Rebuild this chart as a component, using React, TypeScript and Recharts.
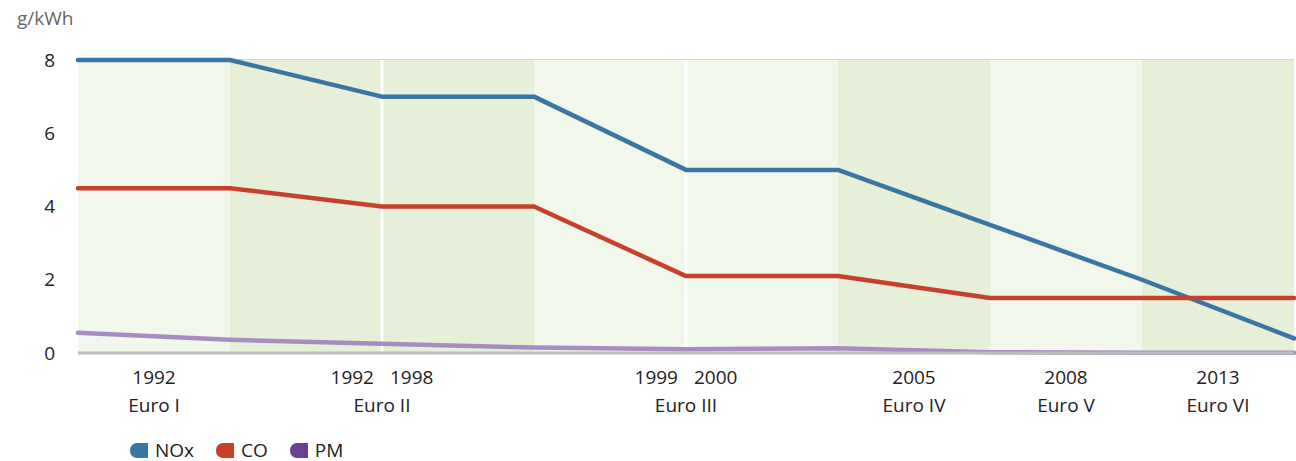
import { LineChart, Line, XAxis, YAxis, CartesianGrid, ReferenceArea, ReferenceLine } from "recharts";

// stage boundaries are indices 0..8 on the x axis
const stagePoints = [0, 1, 2, 3, 4, 5, 6, 7, 8];
const noxValues = [8, 8, 7, 7, 5, 5, 3.5, 2, 0.4];
const coValues = [4.5, 4.5, 4, 4, 2.1, 2.1, 1.5, 1.5, 1.5];
const pmValues = [0.55, 0.36, 0.25, 0.15, 0.1, 0.13, 0.02, 0.01, 0.01];

const yTicks = [0, 2, 4, 6, 8];
const tickPositions = [0.5, 2, 4, 5.5, 6.5, 7.5];
const tickYears = [["1992"], ["1992", "1998"], ["1999", "2000"], ["2005"], ["2008"], ["2013"]];
const tickStages = ["Euro I", "Euro II", "Euro III", "Euro IV", "Euro V", "Euro VI"];

// shaded period bands (start, end) and the white dividers inside them
const bandStarts = [0, 1, 3, 5, 6, 7];
const bandEnds = [1, 3, 5, 6, 7, 8];
const dividers = [2, 4];

const LIGHT = "#f1f7eb";
const DARK = "#e6f0d9";
const FONT = "'Open Sans', sans-serif";

const series = [
    { key: "nox", name: "NOx", color: "#3a76a4", legend: "#3a76a4" },
    { key: "co", name: "CO", color: "#c8402a", legend: "#c8402a" },
    { key: "pm", name: "PM", color: "#a78dbf", legend: "#6b4193" },
];

const data = stagePoints.map((x, i) => ({
    x,
    nox: noxValues[i],
    co: coValues[i],
    pm: pmValues[i],
}));

function StageTick(props: any) {
    const { x, y, payload } = props;
    const i = tickPositions.indexOf(payload.value);
    const years = tickYears[i] || [];
    return (
        <g fontFamily={FONT} fontSize={19} fill="#222">
            {years.length === 1 ? (
                <text x={x} y={y + 31} textAnchor="middle">{years[0]}</text>
            ) : (
                <>
                    <text x={x - 8} y={y + 31} textAnchor="end">{years[0]}</text>
                    <text x={x + 8} y={y + 31} textAnchor="start">{years[1]}</text>
                </>
            )}
            <text x={x} y={y + 59} textAnchor="middle">{tickStages[i]}</text>
        </g>
    );
}

function LegendIcon({ color }: { color: string }) {
    return (
        <svg width={18} height={15} style={{ display: "block" }}>
            <path d="M7 0 H18 V15 H7 A7 7 0 0 1 0 8 V7 A7 7 0 0 1 7 0 Z" fill={color} />
        </svg>
    );
}

export default function App() {
    return (
        <div style={{ position: "relative", width: 1296, height: 461, fontFamily: FONT }}>
            <style>{"body { margin: 0; }"}</style>
            <div style={{ position: "absolute", left: 17, top: 8, lineHeight: "20px", fontSize: 19, color: "#666" }}>
                g/kWh
            </div>
            <LineChart
                width={1296}
                height={438}
                data={data}
                margin={{ top: 60, right: 2, left: 0, bottom: 0 }}
            >
                {bandStarts.map((s, i) => (
                    <ReferenceArea
                        key={"band" + i}
                        x1={s}
                        x2={bandEnds[i]}
                        y1={0}
                        y2={8}
                        fill={i % 2 === 0 ? LIGHT : DARK}
                        fillOpacity={1}
                        stroke="none"
                        ifOverflow="hidden"
                    />
                ))}
                {dividers.map((d) => (
                    <ReferenceLine key={"div" + d} x={d} stroke="#ffffff" strokeWidth={3} />
                ))}
                <CartesianGrid horizontal={true} vertical={false} stroke="#c6c6c6" strokeWidth={1.5} />
                <XAxis
                    dataKey="x"
                    type="number"
                    domain={[0, 8]}
                    ticks={tickPositions}
                    interval={0}
                    tick={<StageTick />}
                    tickLine={false}
                    tickSize={0}
                    tickMargin={0}
                    axisLine={{ stroke: "#bcbcbc", strokeWidth: 3 }}
                    height={85}
                />
                <YAxis
                    domain={[0, 8]}
                    ticks={yTicks}
                    width={78}
                    axisLine={false}
                    tickLine={false}
                    tickSize={0}
                    tickMargin={23}
                    tick={{ fontSize: 19, fill: "#222", fontFamily: FONT }}
                />
                {series.map((s) => (
                    <Line
                        key={s.key}
                        type="linear"
                        dataKey={s.key}
                        name={s.name}
                        stroke={s.color}
                        strokeWidth={4.5}
                        strokeLinecap="round"
                        strokeLinejoin="round"
                        dot={false}
                        activeDot={false}
                        isAnimationActive={false}
                    />
                ))}
            </LineChart>
            <div
                style={{
                    position: "absolute",
                    left: 130,
                    top: 439,
                    display: "flex",
                    alignItems: "center",
                    fontSize: 19,
                    color: "#222",
                    lineHeight: "22px",
                    height: 22,
                }}
            >
                {series.map((s) => (
                    <div key={s.key} style={{ display: "flex", alignItems: "center", marginRight: 22 }}>
                        <LegendIcon color={s.legend} />
                        <span style={{ marginLeft: 7 }}>{s.name}</span>
                    </div>
                ))}
            </div>
        </div>
    );
}
